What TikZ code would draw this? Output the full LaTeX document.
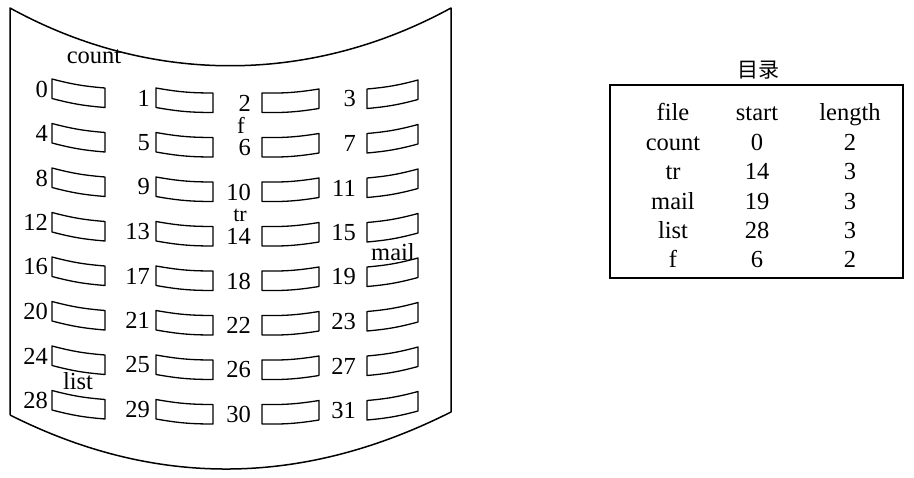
\documentclass[tikz,border=0pt]{standalone}
\usepackage{fontspec}
\setmainfont{Liberation Serif}
\newfontfamily\cjk{Noto Sans CJK SC}
\begin{document}
\begin{tikzpicture}[x=1pt,y=-1pt,
  outline/.style={line width=1.5pt,line join=round},
  cellbox/.style={line width=1.3pt,line join=round},
  num/.style={inner sep=0pt,anchor=east,font=\fontsize{24.5}{26}\selectfont},
  lbl/.style={inner sep=0pt,font=\fontsize{24.5}{26}\selectfont},
  tab/.style={inner sep=0pt,font=\fontsize{24.5}{26}\selectfont},
  tabbox/.style={draw,line width=1.4pt}]
\useasboundingbox (0,0) rectangle (914,478);
% disk outline
\draw[outline] (10,415) -- (10,8) .. controls (150,85) and (310,85) .. (451,8)
  -- (451,412) .. controls (304,486) and (157,489) .. (10,415);
% cells: xl, width, left-top y, slant, label gap
\foreach \c/\xl/\w/\yt/\d/\g in {0/52/53/79/9/4, 1/156/57/88/5/6, 2/262/57/93/-4/11, 3/367/51/89/-9/11}{
  \foreach \r in {0,...,7}{
    \pgfmathsetmacro{\y}{\yt+44.5*\r}
    \pgfmathtruncatemacro{\n}{4*\r+\c}
    \draw[cellbox] (\xl,\y) to[bend right=5] (\xl+\w,\y+\d) -- (\xl+\w,\y+\d+19.5)
      to[bend left=5] (\xl,\y+19.5) -- cycle;
    \node[num] (l\n) at (\xl-\g,\y+10) {\n};
  }
}
% file labels
\node[lbl] (fcount) at (94,57) {count};
\node[lbl,font=\fontsize{23}{24}\selectfont] (ff) at (241,125) {f};
\node[lbl,font=\fontsize{22}{23}\selectfont] (ftr) at (240,215.5) {tr};
\node[lbl] (fmail) at (393,252) {mail};
\node[lbl] (flist) at (78,381) {list};
% directory
\node[inner sep=0pt,font=\cjk\fontsize{21}{23}\selectfont] (title) at (758,70) {目录};
\node[tabbox,minimum width=293pt,minimum height=193pt,inner sep=0pt] (dir) at (756.5,181.5) {};
\foreach \f/\s/\l [count=\i from 0] in {file/start/length, count/0/2, tr/14/3, mail/19/3, list/28/3, f/6/2}{
  \pgfmathsetmacro{\ty}{115+29.4*\i}
  \node[tab] (tf\i) at (673,\ty) {\vphantom{fg}\f};
  \node[tab] (ts\i) at (757,\ty) {\vphantom{fg}\s};
  \node[tab] (tl\i) at (850,\ty) {\vphantom{fg}\l};
}
\end{tikzpicture}
\end{document}
